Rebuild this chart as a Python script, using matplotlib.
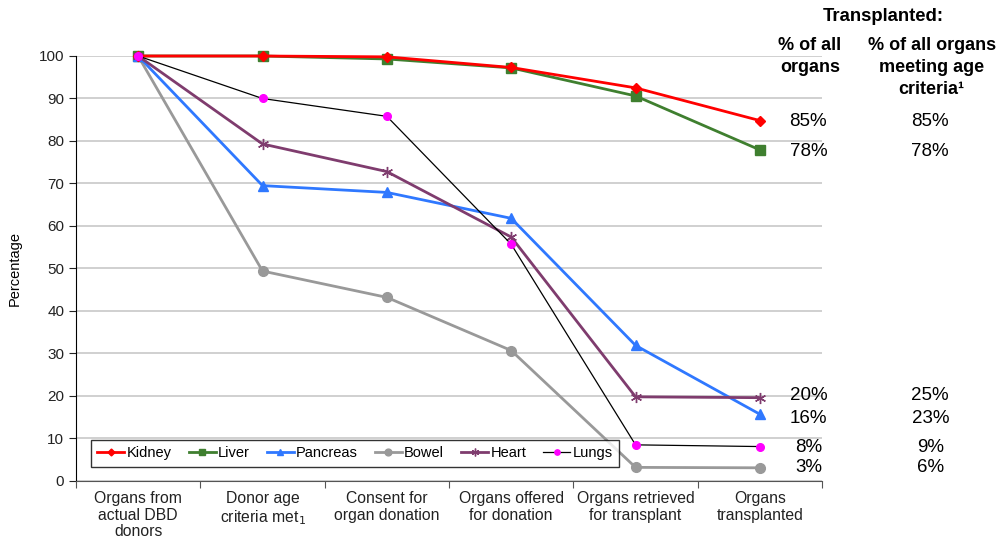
import numpy as np
import matplotlib
matplotlib.use("Agg")
import matplotlib.pyplot as plt

plt.rcParams['font.family'] = ['Liberation Sans', 'DejaVu Sans']

# stages along the pathway
stages = ["Organs from\nactual DBD\ndonors", "Donor age\ncriteria met$_1$",
          "Consent for\norgan donation", "Organs offered\nfor donation",
          "Organs retrieved\nfor transplant", "Organs\ntransplanted"]

kidney = [100, 100, 99.8, 97.3, 92.5, 84.8]
liver = [100, 100, 99.3, 97.2, 90.6, 77.9]
pancreas = [100, 69.5, 67.9, 61.8, 31.9, 15.7]
bowel = [100, 49.4, 43.2, 30.7, 3.2, 3.1]
heart = [100, 79.3, 72.8, 57.4, 19.8, 19.6]
lungs = [100, 90.0, 85.8, 55.7, 8.5, 8.1]

# right-hand table
pct_all = ["85%", "78%", "20%", "16%", "8%", "3%"]
pct_age = ["85%", "78%", "25%", "23%", "9%", "6%"]
label_y = [84.7, 77.6, 20.2, 14.8, 7.8, 3.1]

fig = plt.figure(figsize=(10.05, 5.49), dpi=100)
ax = fig.add_axes([0.0756, 0.1239, 0.7424, 0.7741])

x = np.arange(len(stages))
ax.plot(x, kidney, color='#ff0000', lw=2, marker='D', ms=5, label='Kidney', clip_on=False, zorder=5)
ax.plot(x, liver, color='#3f7f2f', lw=2, marker='s', ms=7, label='Liver', clip_on=False, zorder=4)
ax.plot(x, pancreas, color='#2f78ff', lw=2, marker='^', ms=7, label='Pancreas', clip_on=False, zorder=4)
ax.plot(x, bowel, color='#999999', lw=2, marker='o', ms=7, label='Bowel', clip_on=False, zorder=3)
ax.plot(x, heart, color='#7f3c6e', lw=2, marker=(6, 2, 0), ms=8, mew=1, label='Heart', clip_on=False, zorder=4)
ax.plot(x, lungs, color='black', lw=0.9, marker='o', ms=5.5, mfc='#ff00ff', mec='#ff00ff',
        label='Lungs', clip_on=False, zorder=6)

ax.set_xlim(-0.5, 5.5)
ax.set_ylim(0, 100)
ax.set_yticks(range(0, 101, 10))
ax.set_xticks(np.arange(-0.5, 6, 1))
ax.set_xticklabels([])
ax.set_xticks(x, minor=True)
ax.set_xticklabels(stages, minor=True, fontsize=11.3, color='#222222', linespacing=1.15)
ax.tick_params(axis='x', which='minor', length=0, pad=7)
ax.tick_params(axis='x', which='major', length=5, direction='out', color='#555555')
ax.tick_params(axis='y', length=5, labelsize=11, colors='#222222')
ax.grid(axis='y', color='#c8c8c8', lw=1.2)
ax.set_axisbelow(True)
for s in ['top', 'right']:
    ax.spines[s].set_visible(False)
ax.spines['bottom'].set_color('#555555')
ax.spines['left'].set_color('black')
ax.set_ylabel('Percentage', fontsize=10.5, labelpad=12)

leg = ax.legend(loc='lower left', bbox_to_anchor=(0.02, 0.033, 0.708, 0.068), mode='expand',
                ncol=6, fontsize=10.5, frameon=True, fancybox=False, edgecolor='black',
                handlelength=1.85, handletextpad=0.15, columnspacing=1.0, borderpad=0.45,
                markerscale=0.7, borderaxespad=0)
leg.get_frame().set_linewidth(1)
leg.set_zorder(20)

for i in range(len(pct_all)):
    ax.text(5.39, label_y[i], pct_all[i], ha='center', va='center', fontsize=13.5, clip_on=False)
    ax.text(6.37, label_y[i], pct_age[i], ha='center', va='center', fontsize=13.5, clip_on=False)

fig.text(0.879, 0.97, "Transplanted:", ha='center', va='center', fontsize=13.3, weight='bold')
fig.text(0.806, 0.897, "% of all\norgans", ha='center', va='center', fontsize=13,
         weight='bold', linespacing=1.35)
fig.text(0.927, 0.877, "% of all organs\nmeeting age\ncriteria\u00b9", ha='center', va='center',
         fontsize=13, weight='bold', linespacing=1.35)

fig.savefig("out.png", dpi=100)
